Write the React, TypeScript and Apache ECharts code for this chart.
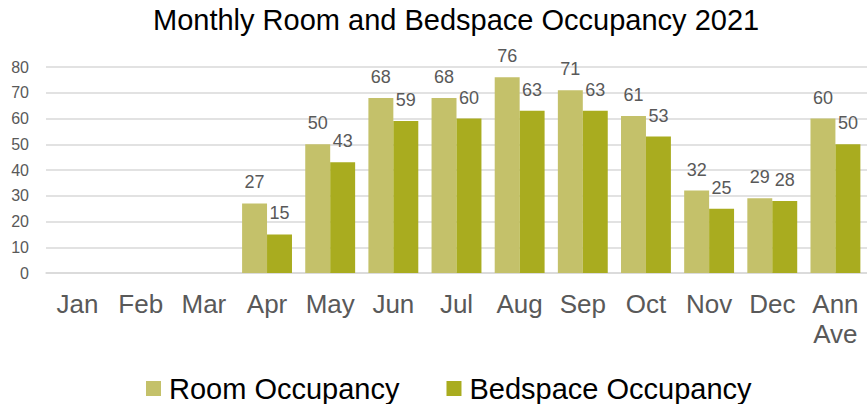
import React, { useEffect, useRef } from "react";
import * as echarts from "echarts";

const categories = ["Jan", "Feb", "Mar", "Apr", "May", "Jun", "Jul", "Aug", "Sep", "Oct", "Nov", "Dec", "Ann\nAve"];
const roomOccupancy = [null, null, null, 27, 50, 68, 68, 76, 71, 61, 32, 29, 60];
const bedspaceOccupancy = [null, null, null, 15, 43, 59, 60, 63, 63, 53, 25, 28, 50];
const seriesNames = ["Room Occupancy", "Bedspace Occupancy"];
const titleText = "Monthly Room and Bedspace Occupancy 2021";

const FONT = "'Liberation Sans', Arial, sans-serif";
const ROOM_COLOR = "#C4C16A";
const BED_COLOR = "#A9AC1F";
const GREY_TEXT = "#595959";

export default function App() {
  const ref = useRef<HTMLDivElement>(null);
  useEffect(() => {
    if (!ref.current) return;
    const chart = echarts.init(ref.current, undefined, { renderer: "svg" });
    const label = {
      show: true,
      position: "top",
      distance: 12,
      color: GREY_TEXT,
      fontSize: 18,
      fontFamily: FONT,
    };
    chart.setOption({
      animation: false,
      title: {
        text: titleText,
        left: 153,
        top: 5,
        padding: 0,
        textStyle: { fontFamily: FONT, fontSize: 29, fontWeight: "normal", color: "#000000" },
      },
      legend: {
        left: 146,
        top: 374,
        padding: 0,
        itemGap: 47,
        itemWidth: 15,
        itemHeight: 15,
        icon: "rect",
        textStyle: { fontFamily: FONT, fontSize: 29, lineHeight: 29, color: "#000000", padding: [0, 0, 0, 3] },
        data: seriesNames,
      },
      grid: { left: 46, top: 67, width: 823, height: 206, containLabel: false },
      xAxis: {
        type: "category",
        data: categories,
        axisLine: { show: true, lineStyle: { color: "#D9D9D9", width: 1.5 } },
        axisTick: { show: false },
        axisLabel: {
          color: GREY_TEXT,
          fontSize: 26,
          fontFamily: FONT,
          margin: 16,
          lineHeight: 30,
          interval: 0,
        },
      },
      yAxis: {
        type: "value",
        min: 0,
        max: 80,
        interval: 10,
        axisLine: { show: false },
        axisTick: { show: false },
        axisLabel: { color: GREY_TEXT, fontSize: 16, fontFamily: FONT, margin: 17 },
        splitLine: { show: true, lineStyle: { color: "#D9D9D9", width: 1.5 } },
      },
      series: [
        {
          name: seriesNames[0],
          type: "bar",
          data: roomOccupancy,
          barGap: "0%",
          barCategoryGap: "21%",
          itemStyle: { color: ROOM_COLOR },
          label,
        },
        {
          name: seriesNames[1],
          type: "bar",
          data: bedspaceOccupancy,
          barGap: "0%",
          barCategoryGap: "21%",
          itemStyle: { color: BED_COLOR },
          label,
        },
      ],
    });
    return () => chart.dispose();
  }, []);
  return <div ref={ref} style={{ width: 867, height: 404, position: "absolute", left: 0, top: 0 }} />;
}
